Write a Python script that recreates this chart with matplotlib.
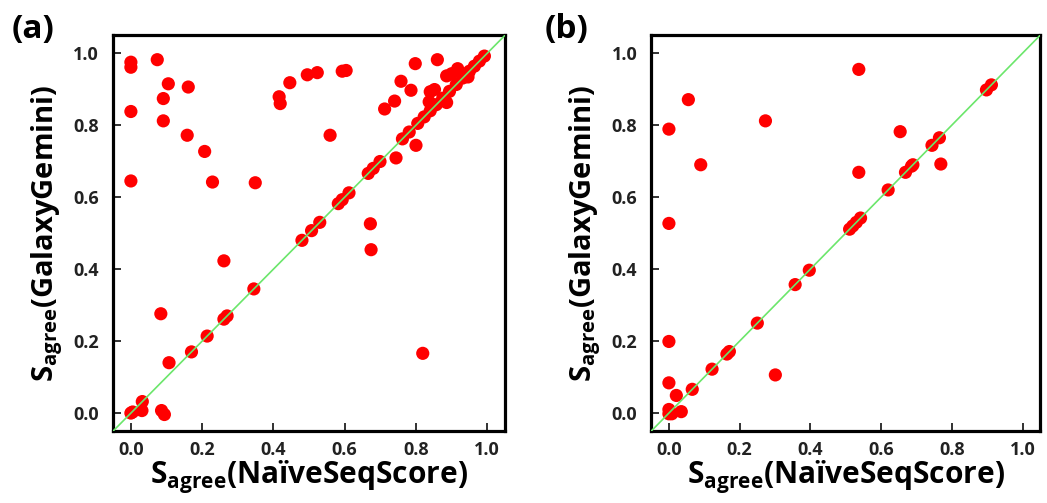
import matplotlib
matplotlib.use("Agg")
import matplotlib.pyplot as plt

plt.rcParams["font.family"] = ["Open Sans", "DejaVu Sans"]
plt.rcParams["font.weight"] = "bold"
plt.rcParams["mathtext.fontset"] = "custom"
plt.rcParams["mathtext.rm"] = "Open Sans:bold"
plt.rcParams["mathtext.bf"] = "Open Sans:bold"

# panel (a): Sagree(NaiveSeqScore) vs Sagree(GalaxyGemini)
a_x = [0.0, 0.0, 0.0, 0.0, 0.074, 0.105, 0.161, 0.091, 0.091, 0.158, 0.207,
       0.229, 0.349, 0.416, 0.419, 0.446, 0.495, 0.523, 0.593, 0.604, 0.559,
       0.672, 0.674, 0.712, 0.740, 0.758, 0.786, 0.798, 0.860, 0.744, 0.800,
       0.886, 0.900, 0.917, 0.840, 0.852, 0.837, 0.886, 0.946,
       0.261, 0.084, 0.107, 0.819,
       0.0, 0.005, 0.031, 0.032, 0.086, 0.094,
       0.170, 0.214, 0.261, 0.270, 0.345, 0.480, 0.507, 0.530, 0.582, 0.593,
       0.612, 0.666, 0.680, 0.699, 0.762, 0.781, 0.805, 0.823, 0.840, 0.857,
       0.875, 0.894, 0.913, 0.931, 0.950, 0.964, 0.978, 0.992]
a_y = [0.975, 0.961, 0.838, 0.645, 0.982, 0.915, 0.906, 0.874, 0.812, 0.772, 0.727,
       0.642, 0.640, 0.879, 0.860, 0.918, 0.940, 0.946, 0.950, 0.952, 0.772,
       0.526, 0.454, 0.845, 0.867, 0.922, 0.897, 0.971, 0.982, 0.709, 0.744,
       0.937, 0.943, 0.957, 0.893, 0.899, 0.865, 0.863, 0.934,
       0.423, 0.276, 0.140, 0.166,
       0.0, 0.003, 0.007, 0.032, 0.007, -0.004,
       0.170, 0.214, 0.261, 0.270, 0.345, 0.480, 0.507, 0.530, 0.582, 0.593,
       0.612, 0.666, 0.680, 0.699, 0.762, 0.781, 0.805, 0.823, 0.840, 0.857,
       0.875, 0.894, 0.913, 0.931, 0.950, 0.964, 0.978, 0.992]

# panel (b)
b_x = [0.537, 0.055, 0.0, 0.273, 0.090, 0.0, 0.654, 0.537, 0.769, 0.0, 0.0,
       0.021, 0.035, 0.0, 0.0, 0.008, 0.301,
       0.066, 0.122, 0.164, 0.171, 0.250, 0.357, 0.397, 0.511, 0.520, 0.530,
       0.542, 0.620, 0.669, 0.686, 0.690, 0.744, 0.765, 0.898, 0.912]
b_y = [0.955, 0.871, 0.789, 0.812, 0.690, 0.527, 0.782, 0.669, 0.692, 0.199, 0.084,
       0.049, 0.004, 0.010, -0.002, -0.002, 0.106,
       0.066, 0.122, 0.164, 0.171, 0.250, 0.357, 0.397, 0.511, 0.520, 0.530,
       0.542, 0.620, 0.669, 0.686, 0.690, 0.744, 0.765, 0.898, 0.912]

ticks = [0.0, 0.2, 0.4, 0.6, 0.8, 1.0]
lims = (-0.05, 1.05)

fig = plt.figure(figsize=(10.47, 5.03), dpi=100)
ax_a = fig.add_axes([0.108, 0.143, 0.3744, 0.787])
ax_b = fig.add_axes([0.622, 0.143, 0.3715, 0.787])

for ax, xs, ys in [(ax_a, a_x, a_y), (ax_b, b_x, b_y)]:
    ax.plot(lims, lims, color="#6be66b", lw=1.2, zorder=3)
    ax.scatter(xs, ys, s=90, color="#ff0000", edgecolors="none", zorder=2)
    ax.set_xlim(lims)
    ax.set_ylim(lims)
    ax.set_xticks(ticks)
    ax.set_yticks(ticks)
    ax.set_xticklabels(["%.1f" % t for t in ticks])
    ax.set_yticklabels(["%.1f" % t for t in ticks])
    ax.tick_params(direction="in", length=6, width=1.3, labelsize=13,
                   color="#222222", labelcolor="#222222")
    ax.tick_params(axis="x", pad=7)
    ax.tick_params(axis="y", pad=10)
    for sp in ax.spines.values():
        sp.set_linewidth(2.3)
    ax.set_xlabel(r"$\mathrm{S}_{\mathrm{agree}}$(NaïveSeqScore)",
                  fontsize=21.5, fontweight="bold", labelpad=0)
    ax.set_ylabel(r"$\mathrm{S}_{\mathrm{agree}}$(GalaxyGemini)",
                  fontsize=21, fontweight="bold", labelpad=6)

fig.text(0.011, 0.975, "(a)", fontsize=24, fontweight="bold", va="top")
fig.text(0.52, 0.975, "(b)", fontsize=24, fontweight="bold", va="top")

plt.savefig("out.png", dpi=100)
